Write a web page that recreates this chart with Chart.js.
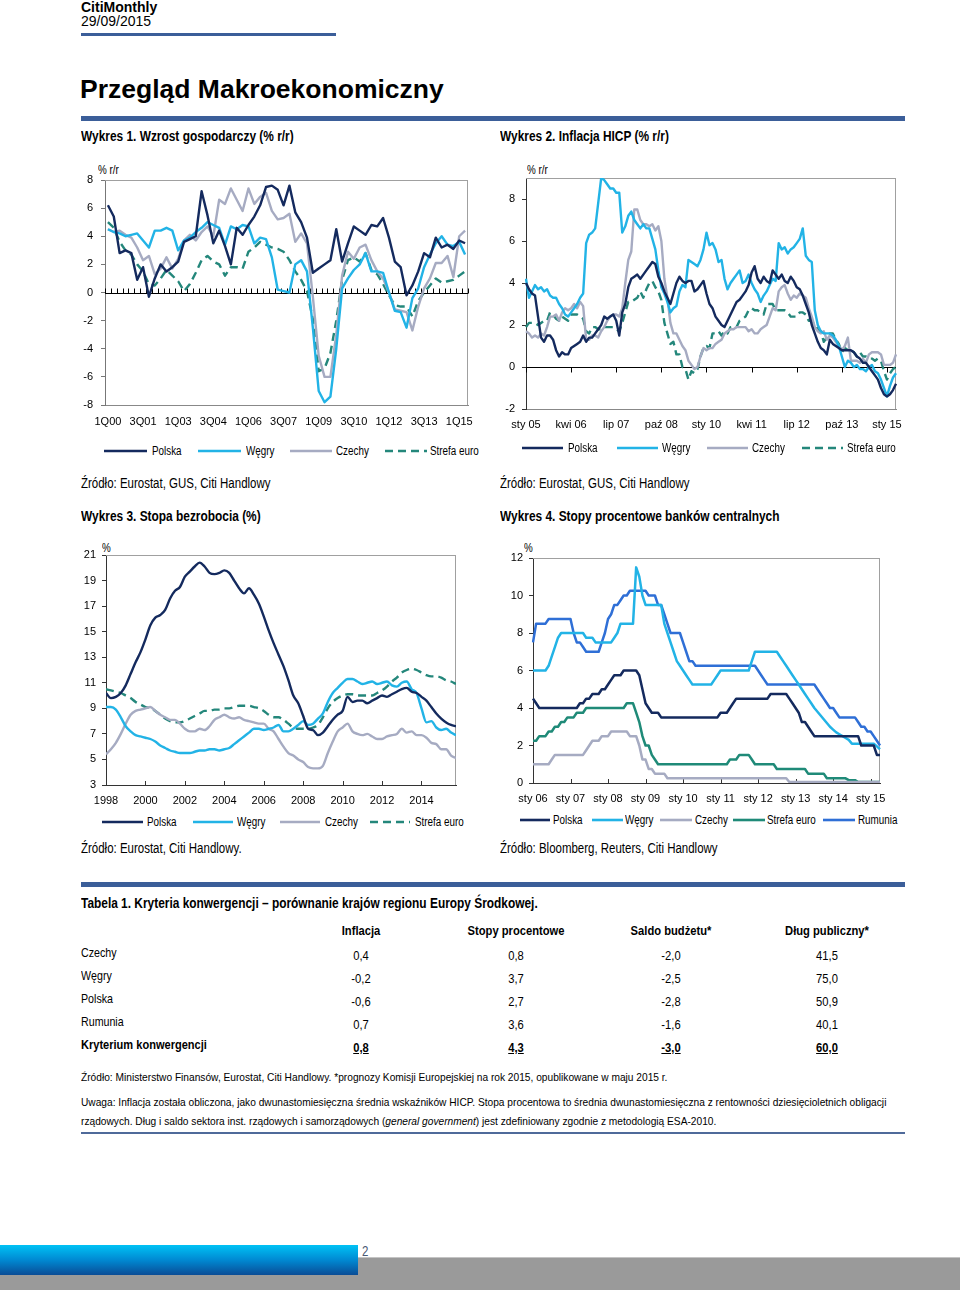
<!DOCTYPE html>
<html><head><meta charset="utf-8">
<script src="https://cdn.jsdelivr.net/npm/chart.js@4.4.1/dist/chart.umd.min.js"></script>
<style>
body{margin:0;width:960px;height:1290px;position:relative;background:#fff;font-family:'Liberation Sans',Arial,sans-serif;color:#000;overflow:hidden}
.a{position:absolute;white-space:nowrap}
.b{font-weight:bold}
.n{transform:scaleX(.82);transform-origin:0 0}
.nb{transform:scaleX(.85);transform-origin:0 0}
.nc{transform:scaleX(.86);transform-origin:50% 0}
.nt{transform:scaleX(.885);transform-origin:0 0}
.cw{position:absolute}
</style></head><body>
<div class="a b" style="left:81px;top:-1px;font-size:14px;line-height:16px">CitiMonthly</div>
<div class="a" style="left:81px;top:13px;font-size:14px;line-height:16px">29/09/2015</div>
<div class="a" style="left:81px;top:33px;width:255px;height:3px;background:#3B5E99"></div>
<div class="a b" style="left:80px;top:73px;font-size:26.5px;line-height:32px">Przegląd Makroekonomiczny</div>
<div class="a" style="left:81px;top:116px;width:824px;height:5px;background:#3B5E99"></div>

<div class="a nb b" style="left:81px;top:128px;font-size:14px;line-height:16px">Wykres 1. Wzrost gospodarczy (% r/r)</div>
<div class="a nb b" style="left:500px;top:128px;font-size:14px;line-height:16px">Wykres 2. Inflacja HICP (% r/r)</div>
<div class="a n" style="left:98px;top:162px;font-size:12px;line-height:16px">% r/r</div>
<div class="a n" style="left:527px;top:162px;font-size:12px;line-height:16px">% r/r</div>
<div class="cw" style="left:50px;top:160px;width:430px;height:275px"><canvas id="c1"></canvas></div>
<div class="cw" style="left:470px;top:158px;width:438px;height:281px"><canvas id="c2"></canvas></div>
<div id="lg"></div>
<div class="a n" style="left:81px;top:475px;font-size:14px;line-height:16px">Źródło: Eurostat, GUS, Citi Handlowy</div>
<div class="a n" style="left:500px;top:475px;font-size:14px;line-height:16px">Źródło: Eurostat, GUS, Citi Handlowy</div>

<div class="a nb b" style="left:81px;top:508px;font-size:14px;line-height:16px">Wykres 3. Stopa bezrobocia (%)</div>
<div class="a nb b" style="left:500px;top:508px;font-size:14px;line-height:16px">Wykres 4. Stopy procentowe banków centralnych</div>
<div class="a n" style="left:102px;top:540px;font-size:12px;line-height:16px">%</div>
<div class="a n" style="left:524px;top:540px;font-size:12px;line-height:16px">%</div>
<div class="cw" style="left:50px;top:535px;width:418px;height:280px"><canvas id="c3"></canvas></div>
<div class="cw" style="left:470px;top:538px;width:422px;height:275px"><canvas id="c4"></canvas></div>
<div class="a n" style="left:81px;top:840px;font-size:14px;line-height:16px">Źródło: Eurostat, Citi Handlowy.</div>
<div class="a n" style="left:500px;top:840px;font-size:14px;line-height:16px">Źródło: Bloomberg, Reuters, Citi Handlowy</div>

<div class="a" style="left:81px;top:882px;width:824px;height:5px;background:#3B5E99"></div>
<div class="a nb b" style="left:81px;top:895px;font-size:14px;line-height:16px">Tabela 1. Kryteria konwergencji – porównanie krajów regionu Europy Środkowej.</div>
<div id="tbl"></div>
<div class="a nt" style="left:81px;top:1069px;font-size:11.5px;line-height:16px">Źródło: Ministerstwo Finansów, Eurostat, Citi Handlowy. *prognozy Komisji Europejskiej na rok 2015, opublikowane w maju 2015 r.</div>
<div class="a nt" style="left:81px;top:1094px;font-size:11.5px;line-height:16px">Uwaga: Inflacja została obliczona, jako dwunastomiesięczna średnia wskaźników HICP. Stopa procentowa to średnia dwunastomiesięczna z rentowności dziesięcioletnich obligacji</div>
<div class="a nt" style="left:81px;top:1113px;font-size:11.5px;line-height:16px">rządowych. Dług i saldo sektora inst. rządowych i samorządowych (<i>general government</i>) jest zdefiniowany zgodnie z metodologią ESA-2010.</div>
<div class="a" style="left:81px;top:1132px;width:824px;height:2px;background:#4F6A9A"></div>

<div class="a" style="left:0;top:1257px;width:960px;height:33px;background:#9a9a9a;border-top:1px solid #c4c4c4"></div>
<div class="a" style="left:0;top:1245px;width:358px;height:30px;background:linear-gradient(to bottom,#00C2F5 0%,#0089D2 50%,#0A4C96 100%)"></div>
<div class="a n" style="left:362px;top:1243px;font-size:14px;line-height:16px;color:#4a5a75">2</div>

<script>
// ---------- DATA ----------
const seriesNames = ['Polska', 'Węgry', 'Czechy', 'Strefa euro'];
const ratesNames = ['Polska', 'Węgry', 'Czechy', 'Strefa euro', 'Rumunia'];

// Wykres 1: GDP y/y, quarterly 1Q00 - 2Q15
const gdpQuarters = [];
for (let y = 0; y < 16; y++) for (let q = 1; q <= 4; q++) gdpQuarters.push(q + 'Q' + String(y).padStart(2, '0'));
gdpQuarters.length = 62;
const gdpPolska = [6.2,5.4,2.8,3.0,2.8,0.9,1.8,-0.3,1.0,2.0,
 1.5,1.8,2.2,3.6,3.8,4.0,7.2,5.5,3.5,4.4,
 3.3,2.0,4.6,4.1,4.8,5.4,6.2,7.5,7.6,7.3,
 6.2,7.6,5.7,5.0,3.9,1.4,1.7,2.0,2.3,4.5,
 2.2,3.5,4.7,4.4,4.1,4.8,4.7,5.3,3.9,2.2,
 1.8,-0.2,0.5,1.5,2.8,2.5,3.9,3.2,3.4,3.1,
 3.7,3.5];
const gdpWegry = [4.5,4.3,4.2,4.0,4.1,4.2,3.7,3.2,4.4,4.4,
 4.6,4.4,3.0,3.7,3.9,4.3,4.6,5.0,4.8,4.6,
 3.4,4.7,4.5,4.8,4.7,3.5,3.9,3.8,2.5,0.2,
 0.1,0.0,2.0,2.3,1.5,-2.5,-7.0,-7.8,-7.4,-4.0,
 0.3,1.0,1.6,2.0,2.8,1.5,1.5,1.4,0.0,-1.3,
 -1.4,-2.5,-0.4,0.3,1.8,2.7,3.5,4.0,3.4,3.3,
 3.6,2.7];
const gdpCzechy = [4.5,4.3,4.4,4.1,3.9,3.2,2.3,2.6,1.3,1.7,
 2.5,1.7,2.4,3.7,4.1,3.7,4.3,4.7,4.0,6.6,
 6.3,7.4,6.6,5.8,7.4,6.3,6.8,7.1,5.8,5.2,
 5.3,5.6,3.6,4.2,3.5,-0.3,-4.5,-6.0,-6.0,-3.0,
 1.2,2.9,2.4,3.2,3.4,2.3,1.5,1.0,0.0,-1.2,
 -1.3,-1.4,-2.7,-1.0,0.3,1.0,2.1,2.1,2.6,1.1,
 4.0,4.4];
const gdpEuro = [5.0,4.6,3.6,3.0,2.7,2.0,1.5,0.6,0.5,1.0,
 1.6,1.2,0.8,0.1,0.6,1.4,2.3,2.6,2.2,2.0,
 1.2,1.8,1.8,1.7,2.9,3.2,3.6,3.4,3.2,3.1,
 2.9,2.3,1.5,0.9,0.1,-1.9,-5.6,-5.4,-4.3,-2.0,
 0.9,2.3,2.5,2.2,2.8,1.6,1.3,0.6,-0.2,-0.9,
 -1.0,-1.0,-1.7,-0.6,0.0,0.5,1.0,0.7,0.8,0.9,
 1.2,1.5];
const gdpTicks = [-8,-6,-4,-2,0,2,4,6,8];

// Wykres 2: HICP y/y, monthly Jan 2005 - Apr 2015
const PL_MONTHS = ['sty','lut','mar','kwi','maj','cze','lip','sie','wrz','paź','lis','gru'];
const hicpMonths = [];
for (let i = 0; i < 124; i++) hicpMonths.push(PL_MONTHS[i % 12] + ' ' + String(5 + Math.floor(i / 12)).padStart(2, '0'));
const hicpPolska = [
 4.0,3.7,3.5,3.4,2.4,1.4,1.2,1.5,1.5,1.3,0.8,0.5,
 0.7,0.6,0.6,0.9,1.0,1.1,1.2,1.5,1.2,1.4,1.4,1.6,
 1.8,2.0,2.4,2.3,2.4,2.5,2.2,1.5,2.6,3.0,3.8,4.2,
 4.3,4.4,4.2,4.4,4.6,4.8,5.0,4.9,4.3,4.0,3.6,3.3,
 3.0,3.5,4.0,4.3,4.1,4.0,4.1,4.1,3.6,3.7,3.9,4.1,
 3.5,3.0,2.8,2.4,2.2,2.0,1.9,2.2,2.5,2.8,3.1,3.2,
 3.4,3.6,3.9,4.5,4.8,4.2,4.0,4.3,4.1,4.0,4.6,4.4,
 4.2,4.4,4.1,4.0,4.3,4.1,3.8,3.7,3.4,3.0,2.6,2.0,
 1.6,1.2,0.9,0.8,0.6,1.3,1.1,1.0,0.9,0.8,0.8,0.8,
 0.8,0.7,0.5,0.4,0.2,0.2,0.0,-0.2,-0.4,-0.6,-1.0,-1.3,
 -1.4,-1.3,-1.1,-0.8];
const hicpWegry = [
 4.2,3.3,3.6,3.9,3.7,3.8,3.6,3.7,3.4,3.3,3.3,3.0,
 2.8,2.5,2.4,2.6,2.8,3.0,3.3,3.5,5.9,6.3,6.4,6.6,
 7.8,9.0,8.9,8.7,8.5,8.5,8.3,8.3,6.4,6.7,7.2,7.4,
 7.0,6.8,6.6,6.8,6.6,6.6,6.1,5.6,4.6,3.8,3.5,3.1,
 2.6,2.8,2.9,3.6,3.9,3.8,5.1,5.0,4.9,4.8,5.1,5.6,
 6.4,5.8,5.9,5.6,5.0,5.1,4.2,3.7,4.0,4.2,4.4,4.6,
 4.0,4.1,4.4,4.0,3.7,3.5,3.1,3.4,3.6,3.9,4.2,4.1,
 5.9,5.6,5.7,5.4,5.6,5.7,5.9,6.1,6.6,5.3,5.1,5.0,
 2.7,2.0,1.7,1.6,1.6,1.6,1.5,1.3,1.0,0.5,0.0,0.3,
 0.2,0.0,0.1,-0.1,-0.1,-0.2,0.0,0.1,-0.2,-0.3,-0.6,-1.0,
 -1.4,-0.9,-0.5,-0.3];
const hicpCzechy = [
 1.7,1.6,1.4,1.5,1.4,1.6,1.5,1.9,2.4,2.4,2.5,2.2,
 2.6,2.8,2.7,2.8,3.0,2.8,3.1,2.9,1.3,1.3,1.5,1.5,
 1.4,1.7,1.9,2.2,2.4,2.5,2.5,2.4,2.8,4.0,5.1,5.5,
 7.5,7.5,7.0,6.8,6.8,6.7,6.8,6.5,6.7,6.0,4.2,3.3,
 2.1,1.6,1.6,1.3,1.0,0.8,0.3,0.1,-0.1,0.0,0.5,0.9,
 0.8,0.9,0.9,1.1,1.2,1.3,1.6,1.7,1.8,1.8,1.9,1.9,
 1.9,1.9,1.7,1.8,1.6,1.6,1.8,1.9,2.0,2.4,2.8,2.7,
 3.6,3.8,3.9,3.5,3.2,3.4,3.3,3.5,3.4,3.3,2.8,2.4,
 1.9,1.7,1.6,1.7,1.3,1.5,1.4,1.2,1.0,0.8,1.0,1.4,
 0.3,0.3,0.3,0.2,0.4,0.2,0.6,0.7,0.7,0.7,0.6,0.1,
 0.1,0.1,0.2,0.6];
const hicpEuro = [
 1.9,2.1,2.1,2.1,2.0,2.1,2.2,2.2,2.6,2.5,2.3,2.2,
 2.4,2.3,2.2,2.5,2.5,2.5,2.4,2.3,1.7,1.6,1.9,1.9,
 1.8,1.8,1.9,1.9,1.9,1.9,1.8,1.7,2.1,2.6,3.1,3.1,
 3.2,3.3,3.6,3.3,3.7,4.0,4.1,3.8,3.6,3.2,2.1,1.6,
 1.1,1.2,0.6,0.6,0.0,-0.1,-0.6,-0.2,-0.3,-0.1,0.5,0.9,
 1.0,0.9,1.6,1.6,1.7,1.5,1.7,1.6,1.9,1.9,1.9,2.2,
 2.3,2.4,2.7,2.8,2.7,2.7,2.6,2.5,3.0,3.0,3.0,2.7,
 2.7,2.7,2.7,2.6,2.4,2.4,2.4,2.6,2.6,2.5,2.2,2.2,
 2.0,1.8,1.7,1.2,1.4,1.6,1.6,1.3,1.1,0.7,0.9,0.8,
 0.8,0.7,0.5,0.7,0.5,0.5,0.4,0.4,0.3,0.4,0.3,-0.2,
 -0.6,-0.3,-0.1,0.0];
const hicpTicks = [-2,0,2,4,6,8];

// Wykres 3: unemployment, quarterly points (month offset from Jan 1998)
const unempStartMonth = 0;
const unempStepMonths = 3;
const unempYearTicks = [1998,2000,2002,2004,2006,2008,2010,2012,2014];
const unempPolska = [10.2,9.8,9.9,10.2,10.8,11.7,12.6,13.4,14.4,15.5,
 16.1,16.3,16.7,17.6,18.2,18.5,19.3,19.7,20.1,20.4,
 20.1,19.6,19.5,19.6,19.8,19.6,19.0,18.4,18.0,18.4,
 17.9,17.2,16.2,15.1,14.1,13.2,12.3,11.2,10.0,9.4,
 8.4,7.4,7.3,6.9,7.1,7.6,8.1,8.5,8.8,9.9,
 9.5,9.6,9.6,9.4,9.6,9.8,10.0,9.9,10.1,10.3,
 10.5,10.6,10.3,10.2,9.9,9.6,9.1,8.6,8.2,7.9,
 7.7,7.6];
const unempWegry = [9.1,9.1,8.9,8.3,7.6,7.2,6.9,6.8,6.7,6.6,
 6.4,6.1,5.9,5.7,5.6,5.5,5.5,5.5,5.6,5.7,
 5.7,5.8,5.8,5.7,5.8,5.9,6.2,6.5,6.8,7.1,
 7.4,7.4,7.3,7.4,7.5,7.7,7.2,7.2,7.4,7.7,
 8.0,7.7,7.8,8.2,8.6,9.5,10.2,10.6,11.0,11.3,
 11.3,11.1,10.9,11.0,11.1,10.9,11.0,11.1,10.8,10.7,
 11.0,11.1,10.5,10.2,9.0,7.9,8.0,7.5,7.3,7.4,
 7.1,6.9];
const unempCzechy = [5.4,5.8,6.3,7.0,7.8,8.5,8.8,8.9,9.0,9.1,
 8.8,8.5,8.3,8.1,8.1,7.8,7.4,7.2,7.2,7.4,
 7.3,7.6,8.1,8.3,8.5,8.3,8.2,8.3,8.1,8.0,
 7.9,7.8,7.8,7.4,7.2,6.6,6.0,5.5,5.3,5.0,
 4.8,4.4,4.3,4.3,4.5,5.5,6.4,7.2,7.5,7.8,
 7.2,7.0,6.9,7.0,6.8,6.6,6.6,6.8,6.9,7.0,
 7.4,7.1,7.2,6.9,6.9,6.7,6.3,6.2,5.8,5.8,
 5.3,5.1];
const unempEuro = [10.5,10.4,10.3,10.2,10.0,9.8,9.5,9.3,9.1,9.0,
 8.8,8.5,8.2,8.0,7.9,7.9,8.0,8.2,8.4,8.6,
 8.8,8.8,8.9,8.9,9.0,9.0,9.1,9.2,9.2,9.2,
 9.1,9.0,8.8,8.5,8.3,8.3,8.1,7.8,7.5,7.4,
 7.4,7.4,7.5,7.7,8.3,9.0,9.5,9.8,10.0,10.1,
 10.1,10.0,10.0,10.0,10.0,10.2,10.4,10.7,11.1,11.4,
 11.8,12.0,12.1,12.0,11.8,11.6,11.5,11.5,11.4,11.2,
 11.1,10.9];

// Wykres 4: policy rates, monthly Jan 2006 - Apr 2015
const ratesMonths = [];
for (let i = 0; i < 112; i++) ratesMonths.push(PL_MONTHS[i % 12] + ' ' + String(6 + Math.floor(i / 12)).padStart(2, '0'));
const ratesPolska = [
 4.5,4.25,4,4,4,4,4,4,4,4,4,4,
 4,4,4,4.25,4.25,4.5,4.5,4.75,4.75,4.75,5,5,
 5.25,5.5,5.75,5.75,5.75,6,6,6,6,6,5.75,5,
 4.25,4,3.75,3.75,3.75,3.5,3.5,3.5,3.5,3.5,3.5,3.5,
 3.5,3.5,3.5,3.5,3.5,3.5,3.5,3.5,3.5,3.5,3.5,3.5,
 3.75,3.75,3.75,4,4.25,4.5,4.5,4.5,4.5,4.5,4.5,4.5,
 4.5,4.5,4.5,4.5,4.75,4.75,4.75,4.75,4.75,4.75,4.5,4.25,
 4,3.75,3.25,3.25,3,2.75,2.5,2.5,2.5,2.5,2.5,2.5,
 2.5,2.5,2.5,2.5,2.5,2.5,2.5,2.5,2.5,2,2,2,
 2,2,1.5,1.5];
const ratesWegry = [
 6,6,6,6,6,6.25,6.75,7.25,7.75,8,8,8,
 8,8,8,8,8,7.75,7.75,7.75,7.5,7.5,7.5,7.5,
 7.5,7.5,7.75,8,8.5,8.5,8.5,8.5,8.5,11.5,11,10,
 9.5,9.5,9.5,9.5,9.5,9.5,8.5,8,7.5,7,6.5,6.25,
 6,5.75,5.5,5.25,5.25,5.25,5.25,5.25,5.25,5.25,5.5,5.75,
 6,6,6,6,6,6,6,6,6,6,6.5,7,
 7,7,7,7,7,7,7,6.75,6.5,6.25,6,5.75,
 5.5,5.25,5,4.75,4.5,4.25,4,3.8,3.6,3.4,3.2,3,
 2.85,2.7,2.6,2.5,2.4,2.3,2.1,2.1,2.1,2.1,2.1,2.1,
 2.1,2.1,1.95,1.8];
const ratesCzechy = [
 1,1,1,1,1,1,1.25,1.5,1.5,1.5,1.5,1.5,
 1.5,1.5,1.5,1.5,1.5,1.75,2,2.25,2.25,2.25,2.5,2.5,
 2.5,2.75,2.75,2.75,2.75,2.75,2.75,2.5,2.5,2.5,2,1.25,
 1.25,0.75,0.75,0.5,0.5,0.5,0.5,0.25,0.25,0.25,0.25,0.25,
 0.25,0.25,0.25,0.25,0.25,0.25,0.25,0.25,0.25,0.25,0.25,0.25,
 0.25,0.25,0.25,0.25,0.25,0.25,0.25,0.25,0.25,0.25,0.25,0.25,
 0.25,0.25,0.25,0.25,0.25,0.25,0.25,0.25,0.25,0.25,0.05,0.05,
 0.05,0.05,0.05,0.05,0.05,0.05,0.05,0.05,0.05,0.05,0.05,0.05,
 0.05,0.05,0.05,0.05,0.05,0.05,0.05,0.05,0.05,0.05,0.05,0.05,
 0.05,0.05,0.05,0.05];
const ratesEuro = [
 2.25,2.25,2.5,2.5,2.5,2.75,2.75,3,3,3.25,3.25,3.5,
 3.5,3.5,3.75,3.75,3.75,4,4,4,4,4,4,4,
 4,4,4,4,4,4,4.25,4.25,4.25,3.75,3.25,2.5,
 2,2,1.5,1.25,1,1,1,1,1,1,1,1,
 1,1,1,1,1,1,1,1,1,1,1,1,
 1,1,1,1.25,1.25,1.25,1.5,1.5,1.5,1.5,1.25,1,
 1,1,1,1,1,1,0.75,0.75,0.75,0.75,0.75,0.75,
 0.75,0.75,0.75,0.75,0.5,0.5,0.5,0.5,0.5,0.5,0.25,0.25,
 0.25,0.25,0.25,0.25,0.25,0.15,0.15,0.15,0.05,0.05,0.05,0.05,
 0.05,0.05,0.05,0.05];
const ratesRumunia = [
 7.5,8.5,8.5,8.5,8.5,8.75,8.75,8.75,8.75,8.75,8.75,8.75,
 8.75,8,7.5,7.5,7.25,7,7,7,7,7,7.5,8,
 8.75,9,9.5,9.5,9.75,10,10,10.25,10.25,10.25,10.25,10.25,
 10.25,10,10,10,9.5,9.5,9,8.5,8,8,8,8,
 7.5,7,6.5,6.5,6.25,6.25,6.25,6.25,6.25,6.25,6.25,6.25,
 6.25,6.25,6.25,6.25,6.25,6.25,6.25,6.25,6.25,6.25,6.25,6.25,
 6,5.75,5.5,5.25,5.25,5.25,5.25,5.25,5.25,5.25,5.25,5.25,
 5.25,5.25,5.25,5.25,5.25,5.25,5.25,5,4.75,4.5,4.25,4,
 4,3.75,3.5,3.5,3.5,3.5,3.5,3.5,3.25,3,3,2.75,
 2.75,2.5,2.25,2];

// Tabela 1
const tableCols = ['Inflacja', 'Stopy procentowe', 'Saldo budżetu*', 'Dług publiczny*'];
const tableRows = ['Czechy', 'Węgry', 'Polska', 'Rumunia'];
const tableInflacja = ['0,4', '-0,2', '-0,6', '0,7'];
const tableStopy = ['0,8', '3,7', '2,7', '3,6'];
const tableSaldo = ['-2,0', '-2,5', '-2,8', '-1,6'];
const tableDlug = ['41,5', '75,0', '50,9', '40,1'];
const tableKryteriumLabel = 'Kryterium konwergencji';
const tableKryterium = ['0,8', '4,3', '-3,0', '60,0'];

// ---------- STYLE ----------
const C_PL = '#142A5E', C_HU = '#22B3E6', C_CZ = '#A6ABC2', C_EA = '#24877B', C_EA4 = '#1F8A78', C_RO = '#2F6FD6';
Chart.defaults.font.family = "'Liberation Sans', Arial, sans-serif";
Chart.defaults.font.size = 11;
Chart.defaults.color = '#000';
Chart.defaults.animation = false;

const framePlugin = {
  id: 'frame',
  beforeDatasetsDraw(chart, args, opts) {
    const ctx = chart.ctx, a = chart.chartArea;
    ctx.save();
    ctx.strokeStyle = '#a0a0a0'; ctx.lineWidth = 1;
    ctx.beginPath();
    ctx.moveTo(a.left, Math.round(a.top) + 0.5); ctx.lineTo(a.right, Math.round(a.top) + 0.5);
    ctx.moveTo(Math.round(a.right) - 0.5, a.top); ctx.lineTo(Math.round(a.right) - 0.5, a.bottom);
    ctx.stroke();
    const xs = chart.scales.x;
    if (opts && opts.zero) {
      const y0 = Math.round(chart.scales.y.getPixelForValue(0)) + 0.5;
      ctx.strokeStyle = '#000'; ctx.lineWidth = 1.2;
      ctx.beginPath(); ctx.moveTo(a.left, y0); ctx.lineTo(a.right, y0); ctx.stroke();
      ctx.lineWidth = 1;
      ctx.beginPath();
      if (opts.zero === 'bands') {
        const n = xs.getLabels().length;
        for (let i = 0; i <= n; i++) {
          const x = Math.round(xs.getPixelForValue(i - 0.5)) + 0.5;
          ctx.moveTo(x, y0); ctx.lineTo(x, y0 - 5);
        }
      } else {
        xs.ticks.forEach(t => {
          const x = Math.round(xs.getPixelForValue(t.value)) + 0.5;
          ctx.moveTo(x, y0); ctx.lineTo(x, y0 + 5);
        });
      }
      ctx.stroke();
    }
    if (opts && opts.bottomTicks) {
      ctx.strokeStyle = '#333'; ctx.lineWidth = 1;
      ctx.beginPath();
      xs.ticks.forEach(t => {
        const x = Math.round(xs.getPixelForValue(t.value)) + 0.5;
        if (x - a.left > 2) { ctx.moveTo(x, a.bottom); ctx.lineTo(x, a.bottom - 4); }
      });
      ctx.stroke();
    }
    ctx.restore();
  }
};

function ds(label, data, color, dashed, width) {
  return { label, data, borderColor: color, backgroundColor: color, borderWidth: width || 2.4,
    borderDash: dashed ? [8, 5] : [], pointRadius: 0, pointHoverRadius: 0, tension: 0,
    borderJoinStyle: 'round', fill: false };
}
function yAxis(min, max, step, w, pad, ticksArr, bc) {
  const o = { min, max, grid: { display: true, drawOnChartArea: false, drawTicks: true, tickLength: 4, color: bc || '#777' },
    border: { display: true, color: bc || '#777' },
    ticks: { stepSize: step, padding: pad, color: '#000' },
    afterFit: s => { s.width = w; } };
  if (ticksArr) o.afterBuildTicks = s => { s.ticks = ticksArr.map(v => ({ value: v })); };
  return o;
}
function baseOpts(pr, scales, frameOpts) {
  return { responsive: true, maintainAspectRatio: false, animation: false, events: [],
    layout: { padding: { top: 20, right: pr, left: 0, bottom: 0 } },
    plugins: { legend: { display: false }, tooltip: { enabled: false }, frame: frameOpts || {} },
    scales };
}

// Chart 1
new Chart(document.getElementById('c1'), {
  type: 'line',
  data: { labels: gdpQuarters, datasets: [
    ds(seriesNames[0], gdpPolska, C_PL), ds(seriesNames[1], gdpWegry, C_HU),
    ds(seriesNames[2], gdpCzechy, C_CZ), ds(seriesNames[3], gdpEuro, C_EA, true) ] },
  options: baseOpts(12, {
    x: { type: 'category', offset: true, grid: { display: false }, border: { display: true, color: '#888' },
      ticks: { autoSkip: false, maxRotation: 0, minRotation: 0, padding: 2 },
      afterBuildTicks: s => { s.ticks = s.ticks.filter(t => t.value % 6 === 0); },
      afterFit: s => { s.height = 30; } },
    y: yAxis(-8, 8, 2, 55, 8, gdpTicks)
  }, { zero: 'bands' }),
  plugins: [framePlugin]
});

// Chart 2
new Chart(document.getElementById('c2'), {
  type: 'line',
  data: { labels: hicpMonths, datasets: [
    ds(seriesNames[0], hicpPolska, C_PL), ds(seriesNames[1], hicpWegry, C_HU),
    ds(seriesNames[2], hicpCzechy, C_CZ), ds(seriesNames[3], hicpEuro, C_EA, true) ] },
  options: baseOpts(12, {
    x: { type: 'category', offset: false, grid: { display: false }, border: { display: true, color: '#888' },
      ticks: { autoSkip: false, maxRotation: 0, minRotation: 0, padding: 1 },
      afterBuildTicks: s => { s.ticks = s.ticks.filter(t => t.value % 15 === 0); },
      afterFit: s => { s.height = 30; } },
    y: yAxis(-2, 9, 2, 56, 7, hicpTicks, '#333')
  }, { zero: 'labels' }),
  plugins: [framePlugin]
});

// Chart 3
const toPts = arr => arr.map((v, k) => ({ x: unempStartMonth + unempStepMonths * k, y: v }));
const ds3 = (l, a, c, d) => Object.assign(ds(l, toPts(a), c, d), { tension: 0.4, cubicInterpolationMode: 'monotone' });
new Chart(document.getElementById('c3'), {
  type: 'line',
  data: { datasets: [
    ds3(seriesNames[0], unempPolska, C_PL), ds3(seriesNames[1], unempWegry, C_HU),
    ds3(seriesNames[2], unempCzechy, C_CZ), ds3(seriesNames[3], unempEuro, C_EA, true) ] },
  options: baseOpts(12, {
    x: { type: 'linear', min: unempStartMonth, max: unempStartMonth + unempStepMonths * (unempPolska.length - 1),
      grid: { display: false }, border: { display: true, color: '#333' },
      afterBuildTicks: s => { s.ticks = unempYearTicks.map(yv => ({ value: (yv - 1998) * 12 })); },
      ticks: { padding: 1, maxRotation: 0, callback: v => String(1998 + Math.round(v / 12)) },
      afterFit: s => { s.height = 30; } },
    y: yAxis(3, 21, 2, 56, 6, null, '#333')
  }, { bottomTicks: true }),
  plugins: [framePlugin]
});

// Chart 4
new Chart(document.getElementById('c4'), {
  type: 'line',
  data: { labels: ratesMonths, datasets: [
    ds(ratesNames[0], ratesPolska, C_PL, false, 2.5), ds(ratesNames[1], ratesWegry, C_HU, false, 2.5),
    ds(ratesNames[2], ratesCzechy, C_CZ, false, 2.5), ds(ratesNames[3], ratesEuro, C_EA4, false, 2.5),
    ds(ratesNames[4], ratesRumunia, C_RO, false, 2.5) ] },
  options: baseOpts(12, {
    x: { type: 'category', offset: false, grid: { display: false }, border: { display: true, color: '#333' },
      ticks: { autoSkip: false, maxRotation: 0, minRotation: 0, padding: 1 },
      afterBuildTicks: s => { s.ticks = s.ticks.filter(t => t.value % 12 === 0); },
      afterFit: s => { s.height = 30; } },
    y: yAxis(0, 12, 2, 63, 6, null, '#333')
  }, { bottomTicks: true }),
  plugins: [framePlugin]
});

// ---------- HTML legends ----------
function legend(cy, items) {
  const host = document.getElementById('lg');
  items.forEach(it => {
    const svg = `<svg class="a" style="left:${it.x}px;top:${cy - 3}px" width="${it.w}" height="6"><line x1="0" y1="3" x2="${it.w}" y2="3" stroke="${it.c}" stroke-width="2.6" ${it.d ? 'stroke-dasharray="8 5"' : ''}/></svg>`;
    host.insertAdjacentHTML('beforeend', svg +
      `<div class="a n" style="left:${it.tx}px;top:${cy - 8}px;font-size:12px;line-height:16px">${it.l}</div>`);
  });
}
legend(451, [
  { x: 104, w: 43, c: C_PL, l: seriesNames[0], tx: 152 },
  { x: 198, w: 43, c: C_HU, l: seriesNames[1], tx: 246 },
  { x: 290, w: 42, c: C_CZ, l: seriesNames[2], tx: 336 },
  { x: 385, w: 42, c: C_EA, d: true, l: seriesNames[3], tx: 430 } ]);
legend(448, [
  { x: 522, w: 41, c: C_PL, l: seriesNames[0], tx: 568 },
  { x: 617, w: 41, c: C_HU, l: seriesNames[1], tx: 662 },
  { x: 707, w: 41, c: C_CZ, l: seriesNames[2], tx: 752 },
  { x: 802, w: 41, c: C_EA, d: true, l: seriesNames[3], tx: 847 } ]);
legend(822, [
  { x: 102, w: 41, c: C_PL, l: seriesNames[0], tx: 147 },
  { x: 193, w: 40, c: C_HU, l: seriesNames[1], tx: 237 },
  { x: 280, w: 40, c: C_CZ, l: seriesNames[2], tx: 325 },
  { x: 370, w: 40, c: C_EA, d: true, l: seriesNames[3], tx: 415 } ]);
legend(820, [
  { x: 520, w: 30, c: C_PL, l: ratesNames[0], tx: 553 },
  { x: 592, w: 31, c: C_HU, l: ratesNames[1], tx: 625 },
  { x: 660, w: 32, c: C_CZ, l: ratesNames[2], tx: 695 },
  { x: 733, w: 32, c: C_EA4, l: ratesNames[3], tx: 767 },
  { x: 823, w: 32, c: C_RO, l: ratesNames[4], tx: 858 } ]);

// ---------- Table ----------
(function () {
  const host = document.getElementById('tbl');
  const colC = [361, 516, 671, 827];
  let h = '';
  tableCols.forEach((t, i) => {
    h += `<div class="a nc b" style="left:${colC[i] - 70}px;width:140px;text-align:center;top:923px;font-size:13px;line-height:16px">${t}</div>`;
  });
  const cols = [tableInflacja, tableStopy, tableSaldo, tableDlug];
  const labY = [953, 976, 999, 1022];
  tableRows.forEach((r, j) => {
    h += `<div class="a n" style="left:81px;top:${labY[j] - 8}px;font-size:13px;line-height:16px">${r}</div>`;
    cols.forEach((c, i) => {
      h += `<div class="a nc" style="left:${colC[i] - 40}px;width:80px;text-align:center;top:${labY[j] - 5}px;font-size:13px;line-height:16px">${c[j]}</div>`;
    });
  });
  h += `<div class="a nb b" style="left:81px;top:1037px;font-size:13px;line-height:16px">${tableKryteriumLabel}</div>`;
  tableKryterium.forEach((v, i) => {
    h += `<div class="a nc b" style="left:${colC[i] - 40}px;width:80px;text-align:center;top:1040px;font-size:13px;line-height:16px;text-decoration:underline">${v}</div>`;
  });
  host.innerHTML = h;
})();
</script>
</body></html>
